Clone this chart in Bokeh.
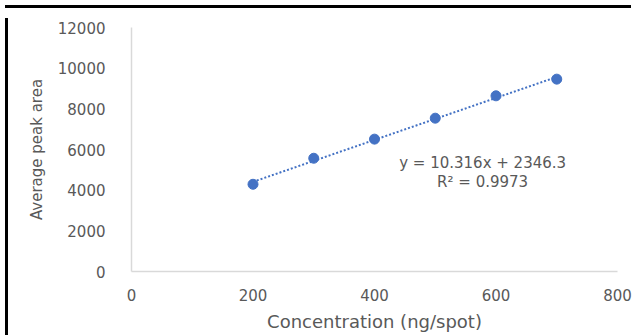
from bokeh.plotting import figure
from bokeh.models import Range1d, Label, FixedTicker, Div
from bokeh.layouts import column, row
from bokeh.embed import file_html
from bokeh.resources import INLINE

concentration = [200, 300, 400, 500, 600, 700]
peak_area = [4290, 5570, 6510, 7540, 8640, 9460]
slope = 10.316
intercept = 2346.3
r_squared = 0.9973
x_ticks = [0, 200, 400, 600, 800]
y_ticks = [0, 2000, 4000, 6000, 8000, 10000, 12000]

FONT = "DejaVu Sans"
GRAY = "#595959"
BLUE = "#4472C4"

p = figure(width=623, height=324, output_backend="svg", toolbar_location=None,
           x_range=Range1d(0, 800), y_range=Range1d(0, 12000),
           min_border_left=118, min_border_top=14, min_border_right=19, min_border_bottom=66)
p.outline_line_color = None
p.xgrid.grid_line_color = None
p.ygrid.grid_line_color = None

# trendline
tx = [min(concentration), max(concentration)]
ty = [slope * v + intercept for v in tx]
p.line(tx, ty, line_color=BLUE, line_width=2, line_dash="2 2")
p.scatter(concentration, peak_area, size=10, color=BLUE)

for ax in (p.xaxis, p.yaxis):
    ax.axis_line_color = "#d9d9d9"
    ax.axis_line_width = 1.5
    ax.major_tick_line_color = None
    ax.minor_tick_line_color = None
    ax.major_label_text_font = FONT
    ax.major_label_text_font_size = "15px"
    ax.major_label_text_color = GRAY
    ax.axis_label_text_font = FONT
    ax.axis_label_text_color = GRAY
    ax.axis_label_text_font_style = "normal"

p.xaxis.axis_label_text_font_size = "18px"
p.yaxis.axis_label_text_font_size = "15px"
p.xaxis.ticker = FixedTicker(ticks=x_ticks)
p.yaxis.ticker = FixedTicker(ticks=y_ticks)
p.xaxis.axis_label = "Concentration (ng/spot)"
p.yaxis.axis_label = "Average peak area"
p.xaxis.major_label_standoff = 11
p.yaxis.major_label_standoff = 20
p.xaxis.axis_label_standoff = 7
p.yaxis.axis_label_standoff = 9

p.add_layout(Label(x=578, y=5360, text=f"y = {slope}x + {intercept}",
                   text_font=FONT, text_font_size="15px", text_color=GRAY,
                   text_align="center", text_baseline="middle"))
p.add_layout(Label(x=578, y=4380, text=f"R² = {r_squared}",
                   text_font=FONT, text_font_size="15px", text_color=GRAY,
                   text_align="center", text_baseline="middle"))

top_border = Div(text="", width=626, height=3, styles={"background": "black"})
left_border = Div(text="", width=3, height=324, styles={"background": "black"})
layout = column(top_border, row(left_border, p, spacing=0), spacing=0)

open("out.html", "w").write(file_html(layout, INLINE))
